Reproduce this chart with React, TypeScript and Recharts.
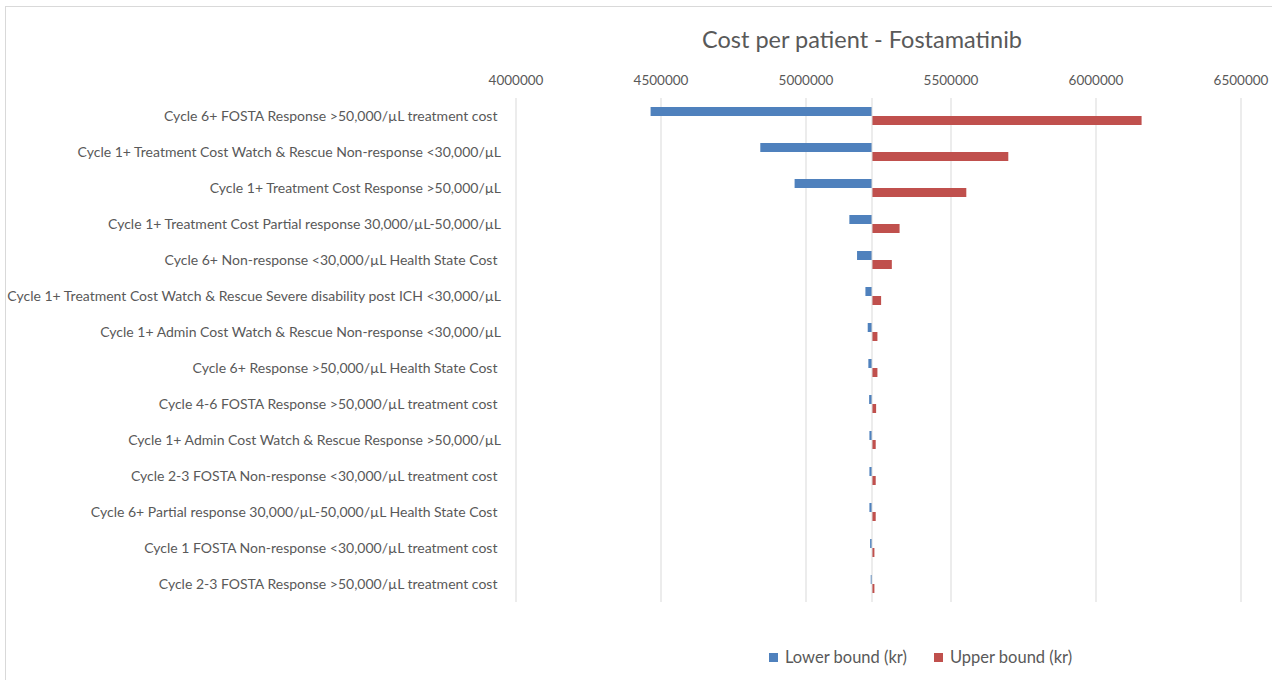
import {
  Bar,
  BarChart,
  CartesianGrid,
  Legend,
  ReferenceLine,
  XAxis,
  YAxis,
} from "recharts";

// tornado rows, biggest swing first
const categories = [
  "Cycle 6+ FOSTA Response >50,000/µL treatment cost ",
  "Cycle 1+ Treatment Cost Watch & Rescue Non-response <30,000/µL",
  "Cycle 1+ Treatment Cost Response >50,000/µL",
  "Cycle 1+ Treatment Cost Partial response 30,000/µL-50,000/µL",
  "Cycle 6+ Non-response <30,000/µL Health State Cost ",
  "Cycle 1+ Treatment Cost Watch & Rescue Severe disability post ICH <30,000/µL",
  "Cycle 1+ Admin Cost Watch & Rescue Non-response <30,000/µL",
  "Cycle 6+ Response >50,000/µL Health State Cost ",
  "Cycle 4-6 FOSTA Response >50,000/µL treatment cost ",
  "Cycle 1+ Admin Cost Watch & Rescue Response >50,000/µL",
  "Cycle 2-3 FOSTA Non-response <30,000/µL treatment cost ",
  "Cycle 6+ Partial response 30,000/µL-50,000/µL Health State Cost ",
  "Cycle 1 FOSTA Non-response <30,000/µL treatment cost ",
  "Cycle 2-3 FOSTA Response >50,000/µL treatment cost ",
];

const lowerBound = [
  4464100, 4842400, 4960700, 5149500, 5176000, 5204900, 5212800, 5215000,
  5217700, 5218700, 5218700, 5218700, 5221100, 5223200,
];

const upperBound = [
  6157200, 5697600, 5552800, 5322700, 5296000, 5259000, 5246300, 5246300,
  5241800, 5240400, 5240400, 5240400, 5235900, 5235900,
];

const baseCost = 5227600;

const xTicks = [4000000, 4500000, 5000000, 5500000, 6000000, 6500000];

const data = categories.map((name, i) => ({
  name,
  lower: [lowerBound[i], baseCost],
  upper: [baseCost, upperBound[i]],
}));

const FONT = "Lato, 'Open Sans', sans-serif";
const TEXT = "#595959";
const GRID = "#d9d9d9";
const BLUE = "#4f81bd";
const RED = "#c0504d";

function CategoryTick(props: any) {
  const { x, y, payload } = props;
  return (
    <text
      x={x}
      y={y}
      dx={-7}
      dy={5}
      textAnchor="end"
      fill={TEXT}
      fontSize={14}
      fontFamily={FONT}
      style={{ whiteSpace: "pre" }}
    >
      {payload.value}
    </text>
  );
}

function ValueTick(props: any) {
  const { x, y, payload } = props;
  return (
    <text
      x={x}
      y={y}
      dy={-5}
      textAnchor="middle"
      fill={TEXT}
      fontSize={13.5}
      fontFamily={FONT}
    >
      {payload.value}
    </text>
  );
}

function LegendContent() {
  const items = [
    { label: "Lower bound (kr)", color: BLUE },
    { label: "Upper bound (kr)", color: RED },
  ];
  return (
    <div
      style={{
        display: "flex",
        paddingLeft: 769,
        fontFamily: FONT,
        fontSize: 16.5,
        color: TEXT,
        lineHeight: "20px",
      }}
    >
      {items.map((it) => (
        <div
          key={it.label}
          style={{ display: "flex", alignItems: "center", marginRight: 27 }}
        >
          <span
            style={{
              width: 9,
              height: 9,
              background: it.color,
              marginRight: 7,
              display: "inline-block",
            }}
          />
          {it.label}
        </div>
      ))}
    </div>
  );
}

export default function App() {
  return (
    <div
      style={{
        position: "absolute",
        left: 0,
        top: 0,
        width: 1272,
        height: 680,
        background: "#fff",
        overflow: "hidden",
      }}
    >
      <div
        style={{
          position: "absolute",
          left: 5,
          top: 6,
          width: 1280,
          height: 700,
          borderTop: `1px solid ${GRID}`,
          borderLeft: `1px solid ${GRID}`,
        }}
      />
      <div
        style={{
          position: "absolute",
          left: 0,
          top: 25,
          width: 1272,
          textAlign: "center",
          paddingLeft: 452,
          boxSizing: "border-box",
          fontFamily: FONT,
          fontSize: 23.5,
          color: TEXT,
        }}
      >
        Cost per patient - Fostamatinib
      </div>
      <div style={{ position: "absolute", left: 0, top: 0 }}>
        <BarChart
          layout="vertical"
          width={1272}
          height={680}
          data={data}
          margin={{ top: 68, right: 31, bottom: 58, left: 0 }}
          barSize={9}
          barGap={0}
        >
          <CartesianGrid stroke={GRID} horizontal={false} />
          <XAxis
            type="number"
            orientation="top"
            domain={[4000000, 6500000]}
            ticks={xTicks}
            axisLine={false}
            tickLine={false}
            height={30}
            tick={<ValueTick />}
          />
          <YAxis
            type="category"
            dataKey="name"
            width={516}
            axisLine={false}
            tickLine={false}
            interval={0}
            tick={<CategoryTick />}
          />
          <ReferenceLine x={baseCost} stroke={GRID} />
          <Legend
            verticalAlign="bottom"
            content={<LegendContent />}
            wrapperStyle={{ top: 647, left: 0, width: 1272 }}
          />
          <Bar
            dataKey="lower"
            name="Lower bound (kr)"
            fill={BLUE}
            isAnimationActive={false}
          />
          <Bar
            dataKey="upper"
            name="Upper bound (kr)"
            fill={RED}
            isAnimationActive={false}
          />
        </BarChart>
      </div>
    </div>
  );
}
